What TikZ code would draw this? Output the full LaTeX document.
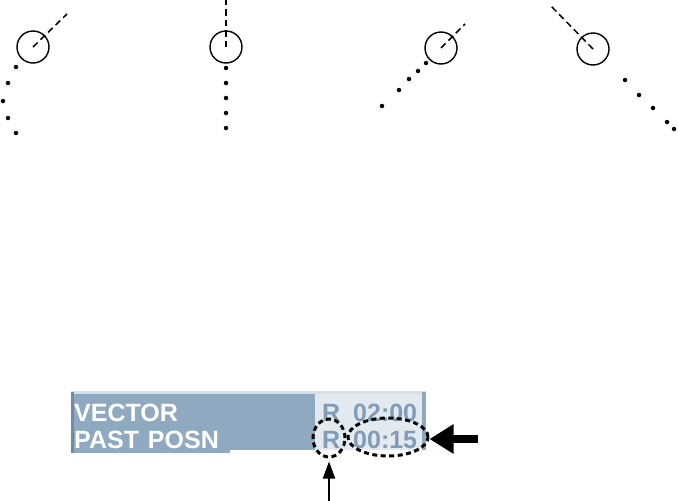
\documentclass[tikz,border=0pt]{standalone}
\usepackage{fontspec}
\setmainfont{Liberation Sans}
\usetikzlibrary{arrows.meta,shapes.geometric}
\definecolor{panelblue}{RGB}{143,170,192}
\definecolor{paneldark}{RGB}{112,140,165}
\definecolor{panellight}{RGB}{214,224,232}
\definecolor{boxfill}{RGB}{226,233,239}
\definecolor{boxtext}{RGB}{128,156,182}
\tikzset{
  ownship/.style={circle,draw,line width=1.4pt,minimum size=32pt,inner sep=0pt},
  vec/.style={line width=1.5pt,dash pattern=on 6.5pt off 4pt},
  pdot/.style={circle,fill,inner sep=0pt,minimum size=4.5pt},
  lbl/.style={font=\bfseries\fontsize{25}{25}\selectfont,text=white,anchor=base west,inner sep=0pt},
  rlbl/.style={font=\bfseries\fontsize{25}{25}\selectfont,text=boxtext,anchor=base west,inner sep=0pt},
  ring/.style={draw,line width=3pt,dash pattern=on 5pt off 3.5pt,inner sep=0pt}
}
\begin{document}
\begin{tikzpicture}[x=1pt,y=-1pt]
\useasboundingbox (0,0) rectangle (678,501);
% ---- top symbols ----
\node[ownship] (c1) at (33,47) {};
\coordinate (e1) at (67,14);
\draw[vec] (c1.center) -- (e1);
\foreach \p [count=\i] in {(16,67),(8,83),(3,101),(8,118),(16,133)}
  \node[pdot] (a\i) at \p {};
\node[ownship] (c2) at (226,47) {};
\coordinate (e2) at (226,0);
\draw[vec] (c2.center) -- (e2);
\foreach \i in {1,...,5}
  \node[pdot] (b\i) at (226,53+15*\i) {};
\node[ownship] (c3) at (441,48) {};
\coordinate (e3) at (465,24);
\draw[vec] (c3.center) -- (e3);
\foreach \p [count=\i] in {(426,63),(418,71),(409,79),(399,90),(382,106)}
  \node[pdot] (d\i) at \p {};
\node[ownship] (c4) at (593,49) {};
\coordinate (e4) at (551,6);
\draw[vec] (c4.center) -- (e4);
\foreach \p [count=\i] in {(625,80),(639,95),(653,108),(667,122),(674,129)}
  \node[pdot] (f\i) at \p {};
% ---- panel ----
\fill[panellight] (71,391) rectangle (426,394);
\fill[panelblue] (71,394) rectangle (315,450);
\fill[panelblue] (71,450) rectangle (230,453);
\fill[paneldark] (71,392) rectangle (74,453);
\fill[boxfill] (315,394) rectangle (422,450);
\fill[panelblue] (422,392) rectangle (426,450);
\node[lbl] (vt) at (74,421) {VECTOR};
\node[lbl] (pp) at (74,448) {PAST\hspace{2pt} POSN};
\node[rlbl] (r1) at (322,421) {R};
\node[rlbl] (t1) at (353,421) {02:00};
\node[rlbl] (r2) at (322,448) {R};
\node[rlbl] (t2) at (353,448) {00:15};
% ---- highlights ----
\node[ring,ellipse,minimum width=32pt,minimum height=38pt] (o1) at (329,438) {};
\node[ring,ellipse,minimum width=80pt,minimum height=38pt] (o2) at (388,437) {};
\coordinate (bt) at (478,439);
\draw[line width=8pt,-{Triangle[length=24pt,width=28pt]}] (bt) -- (bt -| o2.east);
\coordinate (st) at (o1.south |- 0,501);
\draw[line width=2pt,-{Triangle[length=17pt,width=12pt]}] (st) -- ([yshift=-3pt]o1.south);
\end{tikzpicture}
\end{document}
